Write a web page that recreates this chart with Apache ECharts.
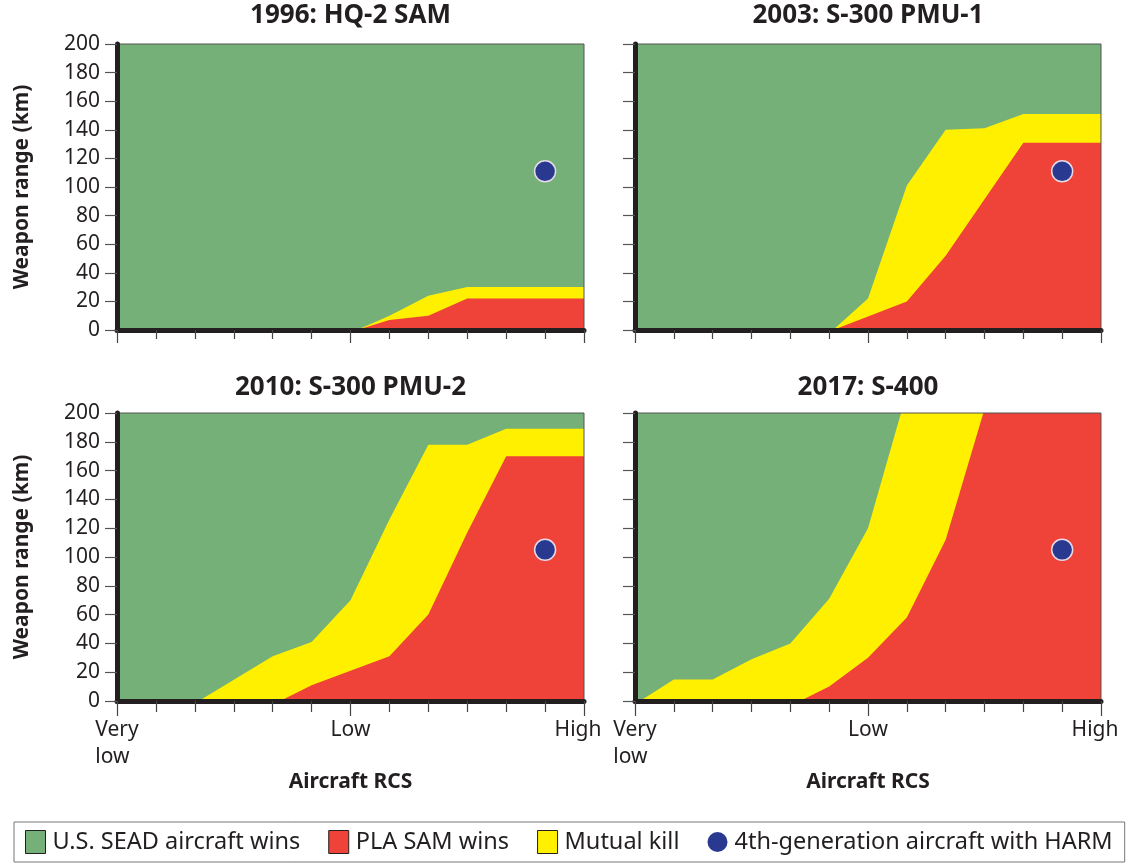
<!DOCTYPE html>
<html>
<head>
<meta charset="utf-8">
<script src="https://cdn.jsdelivr.net/npm/echarts@6/dist/echarts.min.js"></script>
<style>
html,body{margin:0;padding:0;background:#fff;}
#chart{width:1127px;height:865px;}
</style>
</head>
<body>
<div id="chart"></div>
<script>
// ---- data ----
const panelTitles = ['1996: HQ-2 SAM', '2003: S-300 PMU-1', '2010: S-300 PMU-2', '2017: S-400'];
const seriesNames = ['U.S. SEAD aircraft wins', 'PLA SAM wins', 'Mutual kill', '4th-generation aircraft with HARM'];
const xTickValues = [0, 6, 12];
const xTickLabels = ['Very\nlow', 'Low', 'High'];
const yMax = 200;
const yStep = 20;

// green region (U.S. SEAD wins) fills everything up to the top
const seadTop = [[0, 200], [12, 200]];

// Panel 1: 1996 HQ-2 SAM  [RCS index, range km]
const p1Mutual = [[6.17, 0], [7, 10], [8, 24], [9, 30], [12, 30]];
const p1Sam = [[6.17, 0], [7, 7], [8, 10], [9, 22], [12, 22]];
const p1Harm = [[11, 111]];

// Panel 2: 2003 S-300 PMU-1
const p2Mutual = [[5.1, 0], [6, 22], [7, 101], [8, 140], [9, 141], [10, 151], [12, 151]];
const p2Sam = [[5.1, 0], [7, 20], [8, 52], [10, 131], [12, 131]];
const p2Harm = [[11, 111]];

// Panel 3: 2010 S-300 PMU-2
const p3Mutual = [[2.1, 0], [4, 31], [5, 41], [6, 70], [7, 126], [8, 178], [9, 178], [10, 189], [12, 189]];
const p3Sam = [[4.19, 0], [5, 11], [7, 31], [8, 60], [9, 117], [10, 170], [12, 170]];
const p3Harm = [[11, 105]];

// Panel 4: 2017 S-400
const p4Mutual = [[0.13, 0], [1, 15], [2, 15], [3, 29], [4, 40], [5, 71], [6, 120], [6.85, 200], [12, 200]];
const p4Sam = [[4.25, 0], [5, 10], [6, 30], [7, 58], [8, 112], [8.97, 200], [12, 200]];
const p4Harm = [[11, 105]];

const mutualSets = [p1Mutual, p2Mutual, p3Mutual, p4Mutual];
const samSets = [p1Sam, p2Sam, p3Sam, p4Sam];
const harmSets = [p1Harm, p2Harm, p3Harm, p4Harm];

// ---- styling / layout ----
const C_GREEN = '#74b077';
const C_RED = '#ef4238';
const C_YELLOW = '#fff000';
const C_BLUE = '#2a3990';
const INK = '#231f20';
const FONT = "'Noto Sans', 'Open Sans', sans-serif";

const grids = [
  {left: 117, top: 44, width: 467, height: 286},
  {left: 635, top: 44, width: 466, height: 286},
  {left: 117, top: 413, width: 467, height: 288},
  {left: 635, top: 413, width: 466, height: 288}
];

const option = {
  backgroundColor: '#fff',
  animation: false,
  textStyle: {fontFamily: FONT},
  title: panelTitles.map((t, i) => ({
    text: t,
    left: grids[i].left + grids[i].width / 2,
    top: i < 2 ? 3 : 375,
    textAlign: 'center',
    padding: 0,
    textStyle: {fontFamily: FONT, fontWeight: 'bold', fontSize: 26, color: INK}
  })),
  grid: grids.map(g => Object.assign({
    show: true, z: 5, backgroundColor: 'transparent', borderColor: '#555', borderWidth: 1,
    containLabel: false, outerBoundsMode: 'none'
  }, g)),
  xAxis: grids.map((g, i) => ({
    gridIndex: i,
    type: 'value',
    min: 0, max: 12, interval: 6,
    z: 10,
    axisLine: {show: true, onZero: false, lineStyle: {color: INK, width: 5}},
    axisTick: {show: true, length: i < 2 ? 13 : 15, lineStyle: {color: '#444', width: 1.2}},
    minorTick: {show: true, splitNumber: 6, length: i < 2 ? 9 : 11, lineStyle: {color: '#444', width: 1.2}},
    splitLine: {show: false},
    minorSplitLine: {show: false},
    axisLabel: {
      show: i >= 2,
      margin: 16,
      fontSize: 21,
      lineHeight: 27,
      color: INK,
      fontFamily: FONT,
      formatter: v => {
        const k = xTickValues.indexOf(v);
        if (k < 0) return '';
        const key = k === xTickValues.length - 1 ? 'h' : 'l';
        return xTickLabels[k].split('\n').map(s => '{' + key + '|' + s + '}').join('\n');
      },
      rich: {
        l: {align: 'left', fontSize: 21, lineHeight: 27, color: INK, fontFamily: FONT},
        h: {fontSize: 21, lineHeight: 27, color: INK, fontFamily: FONT, padding: [0, 12, 0, 0]}
      }
    },
    name: i >= 2 ? 'Aircraft RCS' : '',
    nameLocation: 'middle',
    nameGap: 70,
    nameTextStyle: {fontFamily: FONT, fontWeight: 'bold', fontSize: 21, color: INK}
  })),
  yAxis: grids.map((g, i) => ({
    gridIndex: i,
    type: 'value',
    min: 0, max: yMax, interval: yStep,
    z: 10,
    axisLine: {show: true, onZero: false, lineStyle: {color: INK, width: 5}},
    axisTick: {show: true, length: 12, lineStyle: {color: '#555', width: 1.2}},
    splitLine: {show: false},
    axisLabel: {show: i % 2 === 0, margin: 17, fontSize: 21, color: INK, fontFamily: FONT},
    name: i % 2 === 0 ? 'Weapon range (km)' : '',
    nameLocation: 'middle',
    nameGap: 84,
    nameTextStyle: {fontFamily: FONT, fontWeight: 'bold', fontSize: 21, color: INK}
  })),
  legend: {
    left: 14, top: 822,
    orient: 'horizontal',
    padding: [8, 12, 8, 11],
    borderColor: '#777', borderWidth: 1,
    itemGap: 28,
    itemWidth: 20, itemHeight: 23,
    textStyle: {fontFamily: FONT, fontSize: 23.5, color: INK, padding: [0, 0, 0, 2]},
    data: [
      {name: seriesNames[0], icon: 'rect', itemStyle: {color: C_GREEN, borderColor: INK, borderWidth: 1}},
      {name: seriesNames[1], icon: 'rect', itemStyle: {color: C_RED, borderColor: INK, borderWidth: 1}},
      {name: seriesNames[2], icon: 'rect', itemStyle: {color: C_YELLOW, borderColor: INK, borderWidth: 1}},
      {name: seriesNames[3], icon: 'circle', itemStyle: {color: C_BLUE, borderWidth: 0, opacity: 1}}
    ]
  },
  series: []
};

function areaSeries(name, data, color, idx, z) {
  return {
    name, type: 'line', data, xAxisIndex: idx, yAxisIndex: idx,
    color, symbol: 'none', smooth: false, z,
    lineStyle: {width: 0, color},
    areaStyle: {color, opacity: 1},
    silent: true
  };
}

for (let i = 0; i < 4; i++) {
  option.series.push(areaSeries(seriesNames[0], seadTop, C_GREEN, i, 1));
  option.series.push(areaSeries(seriesNames[2], mutualSets[i], C_YELLOW, i, 2));
  option.series.push(areaSeries(seriesNames[1], samSets[i], C_RED, i, 3));
  option.series.push({
    name: seriesNames[3], type: 'scatter', data: harmSets[i],
    xAxisIndex: i, yAxisIndex: i, z: 4,
    color: C_BLUE,
    symbolSize: 21,
    itemStyle: {color: C_BLUE, opacity: 1, borderColor: '#e6dbe6', borderWidth: 1.5}
  });
}

const chart = echarts.init(document.getElementById('chart'), null, {renderer: 'canvas'});
chart.setOption(option);
</script>
</body>
</html>
